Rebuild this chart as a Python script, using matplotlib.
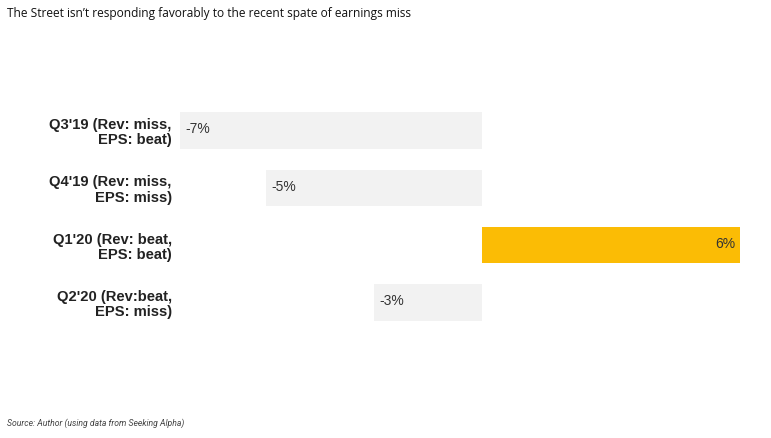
import matplotlib
matplotlib.use("Agg")
import matplotlib.pyplot as plt

categories = ["Q3'19 (Rev: miss,\nEPS: beat)", "Q4'19 (Rev: miss,\nEPS: miss)",
              "Q1'20 (Rev: beat,\nEPS: beat)", "Q2'20 (Rev:beat,\nEPS: miss)"]
values = [-7.0, -5.0, 6.0, -2.5]
value_labels = ["-7%", "-5%", "6%", "-3%"]

W, H = 771, 438
fig = plt.figure(figsize=(W / 100, H / 100), dpi=100)
left, right, top, bottom = 180, 741, 102, 331
ax = fig.add_axes([left / W, 1 - bottom / H, (right - left) / W, (bottom - top) / H])

colors = ["#fbbc05" if v > 0 else "#f2f2f2" for v in values]
ypos = list(range(len(values)))
ax.barh(ypos, values, height=0.64, color=colors, edgecolor="none")
ax.set_xlim(-7.0, 6.02)
ax.set_ylim(3.5, -0.5)

for y, v, lab in zip(ypos, values, value_labels):
    if v < 0:
        ax.text(v + 0.12, y - 0.02, lab, ha="left", va="center",
                fontsize=10, family="Liberation Sans", color="#333333")
    else:
        ax.text(v - 0.12, y - 0.02, lab, ha="right", va="center",
                fontsize=10, family="Liberation Sans", color="#333333")

ax.set_yticks(ypos)
ax.set_yticklabels(categories, fontsize=10.6, family="Liberation Sans",
                   fontweight="bold", color="#222222", multialignment="right",
                   linespacing=1.12)
ax.tick_params(axis="y", length=0, pad=6)
ax.set_xticks([])
for s in ax.spines.values():
    s.set_visible(False)

fig.text(7 / W, 1 - 13 / H, "The Street isn\u2019t responding favorably to the recent spate of earnings miss",
         ha="left", va="center", fontsize=8.6, family="Open Sans", color="#111111")
fig.text(7 / W, 1 - 423 / H, "Source: Author (using data from Seeking Alpha)",
         ha="left", va="center", fontsize=6.2, family="Roboto", style="italic", color="#444444")

fig.savefig("out.png", dpi=100)
